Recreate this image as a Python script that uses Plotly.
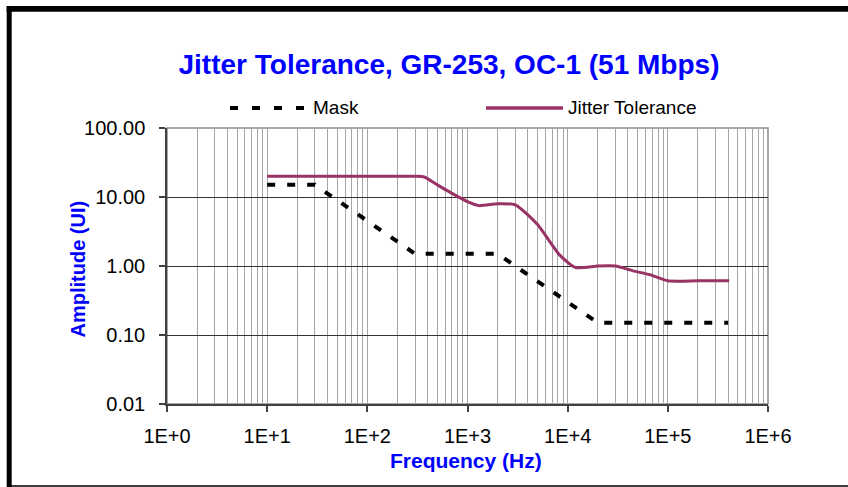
import plotly.graph_objects as go

# ---- data ----
mask_freq = [10, 30, 300, 2000, 20000, 400000]
mask_amp = [15, 15, 1.5, 1.5, 0.15, 0.15]

jt_freq = [10, 100, 300, 370, 500, 700, 1000, 1300, 2000, 3000, 5000, 8300, 12000, 20000, 30000,
           45000, 66000, 100000, 200000, 410000]
jt_amp = [20, 20, 20, 19.5, 15, 11.3, 8.6, 7.5, 8.0, 7.7, 4.0, 1.45, 0.95, 1.0, 1.0,
          0.85, 0.75, 0.61, 0.61, 0.61]

x_tickvals = [1, 10, 100, 1000, 10000, 100000, 1000000]
x_ticktext = ["1E+0", "1E+1", "1E+2", "1E+3", "1E+4", "1E+5", "1E+6"]
y_tickvals = [0.01, 0.1, 1, 10, 100]
y_ticktext = ["0.01", "0.10", "1.00", "10.00", "100.00"]

title_text = "Jitter Tolerance, GR-253, OC-1 (51 Mbps)"
x_title = "Frequency (Hz)"
y_title = "Amplitude (UI)"
series_names = ["Mask", "Jitter Tolerance"]

# ---- layout geometry (pixels) ----
W, H = 848, 487
L, R, T, B = 167, 80, 128, 83
PW, PH = W - L - R, H - T - B


def px(xp):
    return (xp - L) / PW


def py(yp):
    return (H - B - yp) / PH


FONT = "Liberation Sans, Arial, sans-serif"
JT_COLOR = "#993366"
BLUE = "#0000FF"

fig = go.Figure()
fig.add_trace(go.Scatter(x=mask_freq, y=mask_amp, mode="lines", name=series_names[0],
                         line=dict(color="black", width=4, dash="8px,12px"), showlegend=False))
fig.add_trace(go.Scatter(x=jt_freq, y=jt_amp, mode="lines", name=series_names[1],
                         line=dict(color=JT_COLOR, width=3, shape="spline", smoothing=0.6),
                         showlegend=False))

shapes = []
# plot-area border (gray)
shapes.append(dict(type="rect", xref="paper", yref="paper", x0=0, x1=1, y0=0, y1=1,
                   line=dict(color="#8c8c8c", width=1.5), layer="below"))
# outer frame
shapes.append(dict(type="line", xref="paper", yref="paper", x0=px(9.2), x1=px(9.2),
                   y0=py(6), y1=py(487), line=dict(color="black", width=5)))
shapes.append(dict(type="line", xref="paper", yref="paper", x0=px(6.7), x1=px(848),
                   y0=py(8.8), y1=py(8.8), line=dict(color="black", width=5.7)))
shapes.append(dict(type="line", xref="paper", yref="paper", x0=px(9), x1=px(848),
                   y0=py(486), y1=py(486), line=dict(color="black", width=1.5)))
# legend samples
shapes.append(dict(type="line", xref="paper", yref="paper", x0=px(230), x1=px(306),
                   y0=py(108), y1=py(108), line=dict(color="black", width=4, dash="8px,14px")))
shapes.append(dict(type="line", xref="paper", yref="paper", x0=px(486), x1=px(563),
                   y0=py(108), y1=py(108), line=dict(color=JT_COLOR, width=3.5)))

annotations = [
    dict(text=series_names[0], xref="paper", yref="paper", x=px(311), y=py(107),
         xanchor="left", yanchor="middle", showarrow=False,
         font=dict(family=FONT, size=19, color="black")),
    dict(text=series_names[1], xref="paper", yref="paper", x=px(566), y=py(107),
         xanchor="left", yanchor="middle", showarrow=False,
         font=dict(family=FONT, size=19, color="black")),
    dict(text="<b>" + x_title + "</b>", xref="paper", yref="paper", x=px(466), y=py(460),
         xanchor="center", yanchor="middle", showarrow=False,
         font=dict(family=FONT, size=21, color=BLUE)),
    dict(text="<b>" + y_title + "</b>", xref="paper", yref="paper", x=px(77.5), y=py(269),
         xanchor="center", yanchor="middle", showarrow=False, textangle=-90,
         font=dict(family=FONT, size=20, color=BLUE)),
]

fig.update_layout(
    width=W, height=H,
    margin=dict(l=L, r=R, t=T, b=B, pad=0),
    paper_bgcolor="white", plot_bgcolor="white",
    showlegend=False,
    title=dict(text="<b>" + title_text + "</b>", x=449 / W, xref="container", xanchor="center",
               y=1 - 64 / H, yref="container", yanchor="middle",
               font=dict(family=FONT, size=28, color=BLUE)),
    shapes=shapes,
    annotations=annotations,
    font=dict(family=FONT, size=20, color="black"),
)

fig.update_xaxes(type="log", range=[0, 6], tickvals=x_tickvals, ticktext=x_ticktext,
                 showgrid=True, gridcolor="#a6a6a6", gridwidth=1,
                 minor=dict(dtick="D1", showgrid=True, gridcolor="#a6a6a6", gridwidth=1, ticks=""),
                 showline=True, linecolor="#404040", linewidth=1.5,
                 ticks="outside", ticklen=6, tickcolor="#404040", tickwidth=1.5,
                 ticklabelstandoff=7, zeroline=False,
                 tickfont=dict(family=FONT, size=20, color="black"))
fig.update_yaxes(type="log", range=[-2, 2], tickvals=y_tickvals, ticktext=y_ticktext,
                 showgrid=True, gridcolor="#333333", gridwidth=1,
                 showline=True, linecolor="#404040", linewidth=1.5,
                 ticks="outside", ticklen=6, tickcolor="#404040", tickwidth=1.5,
                 ticklabelstandoff=10, zeroline=False,
                 tickfont=dict(family=FONT, size=20, color="black"))

fig.write_html("out.html", config={"displayModeBar": False},
               post_script="document.body.style.margin='0';document.body.style.padding='0';")
